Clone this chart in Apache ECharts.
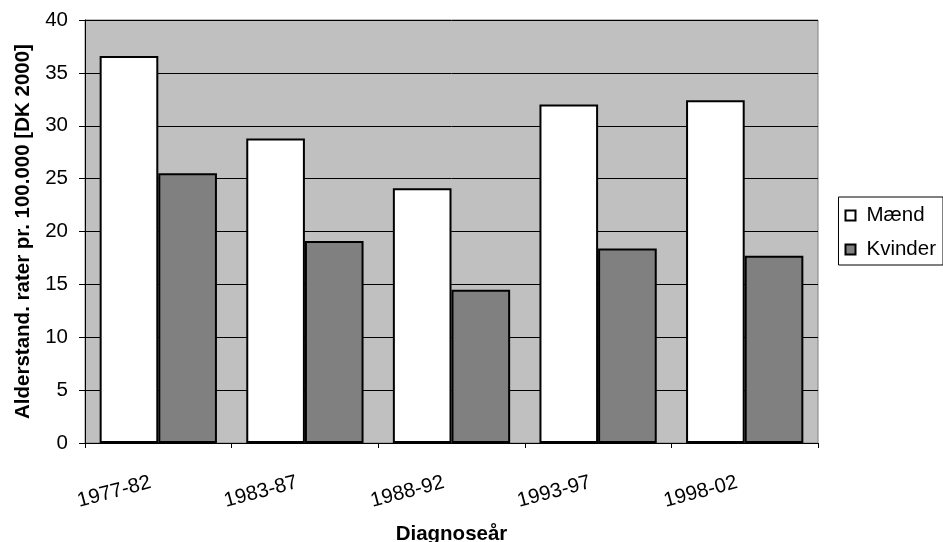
<!DOCTYPE html>
<html><head><meta charset="utf-8">
<script src="https://cdn.jsdelivr.net/npm/echarts@6/dist/echarts.min.js"></script>
<style>html,body{margin:0;padding:0;background:#fff}#c{width:943px;height:542px}</style>
</head><body><div id="c"></div>
<script>
const categories = ['1977-82','1983-87','1988-92','1993-97','1998-02'];
const maend = [36.6, 28.8, 24.1, 32.0, 32.4];
const kvinder = [25.5, 19.1, 14.5, 18.4, 17.7];
const yTicks = [0,5,10,15,20,25,30,35,40];

const chart = echarts.init(document.getElementById('c'), null, {renderer:'canvas'});
const font = 'Liberation Sans, Arial, sans-serif';
chart.setOption({
  animation:false,
  backgroundColor:'#fff',
  textStyle:{fontFamily:font},
  grid:{left:85,right:125,top:20,bottom:99,containLabel:false,outerBoundsMode:'none',show:true,backgroundColor:'#C0C0C0',borderColor:'#808080',borderWidth:1},
  legend:{
    orient:'vertical', right:0, top:197,
    icon:'rect',
    itemWidth:10, itemHeight:10, itemGap:13,
    padding:[8,7,5,6],
    borderColor:'#000', borderWidth:1, backgroundColor:'#fff',
    textStyle:{fontFamily:font,fontSize:20.5,color:'#000',padding:[0,0,0,6]},
    data:[{name:'Mænd',itemStyle:{color:'#fff',borderColor:'#000',borderWidth:2}},
          {name:'Kvinder',itemStyle:{color:'#808080',borderColor:'#000',borderWidth:2}}]
  },
  xAxis:{
    type:'category', data:categories,
    name:'Diagnoseår', nameLocation:'middle', nameGap:81,
    nameTextStyle:{fontFamily:font,fontSize:20.5,fontWeight:'bold',color:'#000'},
    axisLine:{lineStyle:{color:'#000',width:1}},
    axisTick:{show:true,length:5,lineStyle:{color:'#000'}},
    axisLabel:{rotate:15,fontSize:20.5,color:'#000',margin:37,padding:[0,8,0,0],fontFamily:font}
  },
  yAxis:{
    type:'value', min:yTicks[0], max:yTicks[yTicks.length-1], interval:5,
    name:'Alderstand. rater pr. 100.000 [DK 2000]', nameLocation:'middle', nameGap:47,
    nameTextStyle:{fontFamily:font,fontSize:20.5,fontWeight:'bold',color:'#000'},
    axisLine:{show:true,lineStyle:{color:'#000',width:1}},
    axisTick:{show:true,length:6,lineStyle:{color:'#000'}},
    axisLabel:{fontSize:20.5,color:'#000',margin:17,fontFamily:font},
    splitLine:{show:true,lineStyle:{color:'#000',width:1}}
  },
  series:[
    {name:'Mænd',type:'bar',data:maend,barGap:'0%',barCategoryGap:'20%',
     itemStyle:{color:'#fff',borderColor:'#000',borderWidth:2}},
    {name:'Kvinder',type:'bar',data:kvinder,barGap:'0%',barCategoryGap:'20%',
     itemStyle:{color:'#808080',borderColor:'#000',borderWidth:2}}
  ]
});
</script></body></html>
